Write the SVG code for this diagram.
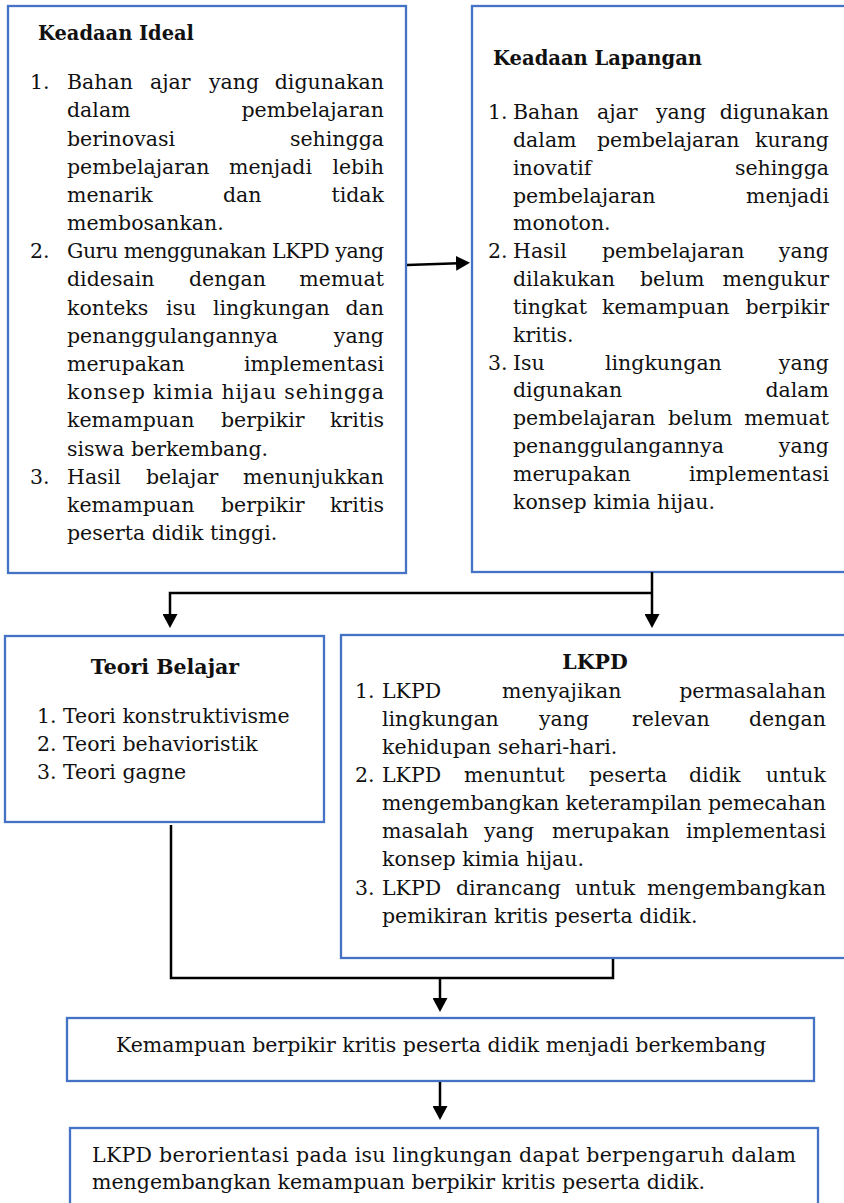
<svg xmlns="http://www.w3.org/2000/svg" width="844" height="1203" viewBox="0 0 844 1203">
<style>
.box{fill:#fff;stroke:#4472C4;stroke-width:2.3}
.t{font-family:"DejaVu Serif","Liberation Serif",serif;font-size:20.5px;fill:#111}
.h{font-family:"DejaVu Serif","Liberation Serif",serif;font-size:20.5px;font-weight:bold;fill:#111}
.c{text-anchor:middle}
.conn{fill:none;stroke:#000;stroke-width:2.5}
</style>
<defs>
<marker id="ah" markerWidth="14" markerHeight="15" refX="10" refY="7.5" orient="auto" markerUnits="userSpaceOnUse">
<path d="M0,0 L14,7.5 L0,15 z" fill="#000"/>
</marker>
</defs>

<g id="ideal">
<rect class="box" x="8" y="6" width="398" height="567"/>
<text class="h" x="38" y="40" textLength="156" lengthAdjust="spacingAndGlyphs">Keadaan Ideal</text>
<g class="t">
<text y="89"><tspan x="30">1.</tspan><tspan x="67">Bahan</tspan><tspan x="150">ajar</tspan><tspan x="209">yang</tspan><tspan x="384" text-anchor="end">digunakan</tspan></text>
<text y="117"><tspan x="67">dalam</tspan><tspan x="384" text-anchor="end">pembelajaran</tspan></text>
<text y="146"><tspan x="67">berinovasi</tspan><tspan x="384" text-anchor="end">sehingga</tspan></text>
<text y="174"><tspan x="67">pembelajaran</tspan><tspan x="229">menjadi</tspan><tspan x="384" text-anchor="end">lebih</tspan></text>
<text y="202"><tspan x="67">menarik</tspan><tspan x="223">dan</tspan><tspan x="384" text-anchor="end">tidak</tspan></text>
<text y="230"><tspan x="67">membosankan.</tspan></text>
<text x="30" y="258">2.</text>
<text x="67" y="258" textLength="317" lengthAdjust="spacing">Guru menggunakan LKPD yang</text>
<text y="286"><tspan x="67">didesain</tspan><tspan x="189">dengan</tspan><tspan x="384" text-anchor="end">memuat</tspan></text>
<text y="315"><tspan x="67">konteks</tspan><tspan x="166">isu</tspan><tspan x="213">lingkungan</tspan><tspan x="384" text-anchor="end">dan</tspan></text>
<text y="343"><tspan x="67">penanggulangannya</tspan><tspan x="384" text-anchor="end">yang</tspan></text>
<text y="371"><tspan x="67">merupakan</tspan><tspan x="384" text-anchor="end">implementasi</tspan></text>
<text x="67" y="399" textLength="317" lengthAdjust="spacing">konsep kimia hijau sehingga</text>
<text y="427"><tspan x="67">kemampuan</tspan><tspan x="221">berpikir</tspan><tspan x="384" text-anchor="end">kritis</tspan></text>
<text y="456"><tspan x="67">siswa berkembang.</tspan></text>
<text y="484"><tspan x="30">3.</tspan><tspan x="67">Hasil</tspan><tspan x="146">belajar</tspan><tspan x="384" text-anchor="end">menunjukkan</tspan></text>
<text y="512"><tspan x="67">kemampuan</tspan><tspan x="221">berpikir</tspan><tspan x="384" text-anchor="end">kritis</tspan></text>
<text y="540"><tspan x="67">peserta didik tinggi.</tspan></text>
</g>
</g>

<g id="lapangan">
<rect class="box" x="472" y="6" width="380" height="566"/>
<text class="h" x="493" y="65" textLength="209" lengthAdjust="spacingAndGlyphs">Keadaan Lapangan</text>
<g class="t">
<text y="119"><tspan x="488">1.</tspan><tspan x="513">Bahan</tspan><tspan x="597">ajar</tspan><tspan x="656">yang</tspan><tspan x="829" text-anchor="end">digunakan</tspan></text>
<text y="147"><tspan x="513">dalam</tspan><tspan x="597">pembelajaran</tspan><tspan x="829" text-anchor="end">kurang</tspan></text>
<text y="175"><tspan x="513">inovatif</tspan><tspan x="829" text-anchor="end">sehingga</tspan></text>
<text y="203"><tspan x="513">pembelajaran</tspan><tspan x="829" text-anchor="end">menjadi</tspan></text>
<text y="230"><tspan x="513">monoton.</tspan></text>
<text y="258"><tspan x="488">2.</tspan><tspan x="513">Hasil</tspan><tspan x="602">pembelajaran</tspan><tspan x="829" text-anchor="end">yang</tspan></text>
<text y="286"><tspan x="513">dilakukan</tspan><tspan x="640">belum</tspan><tspan x="829" text-anchor="end">mengukur</tspan></text>
<text y="314"><tspan x="513">tingkat</tspan><tspan x="602">kemampuan</tspan><tspan x="829" text-anchor="end">berpikir</tspan></text>
<text y="342"><tspan x="513">kritis.</tspan></text>
<text y="370"><tspan x="488">3.</tspan><tspan x="513">Isu</tspan><tspan x="605">lingkungan</tspan><tspan x="829" text-anchor="end">yang</tspan></text>
<text y="397"><tspan x="513">digunakan</tspan><tspan x="829" text-anchor="end">dalam</tspan></text>
<text y="425"><tspan x="513">pembelajaran</tspan><tspan x="668">belum</tspan><tspan x="829" text-anchor="end">memuat</tspan></text>
<text y="453"><tspan x="513">penanggulangannya</tspan><tspan x="829" text-anchor="end">yang</tspan></text>
<text y="481"><tspan x="513">merupakan</tspan><tspan x="829" text-anchor="end">implementasi</tspan></text>
<text y="509"><tspan x="513">konsep kimia hijau.</tspan></text>
</g>
</g>

<g id="teori">
<rect class="box" x="5" y="636" width="319" height="186"/>
<text class="h c" x="165" y="674">Teori Belajar</text>
<g class="t">
<text y="723"><tspan x="37">1.</tspan><tspan x="63">Teori konstruktivisme</tspan></text>
<text y="751"><tspan x="37">2.</tspan><tspan x="63">Teori behavioristik</tspan></text>
<text y="779"><tspan x="37">3.</tspan><tspan x="63">Teori gagne</tspan></text>
</g>
</g>

<g id="lkpd">
<rect class="box" x="341" y="635" width="510" height="323"/>
<text class="h c" x="595" y="669">LKPD</text>
<g class="t">
<text y="698"><tspan x="355">1.</tspan><tspan x="382">LKPD</tspan><tspan x="502">menyajikan</tspan><tspan x="826" text-anchor="end">permasalahan</tspan></text>
<text y="726"><tspan x="382">lingkungan</tspan><tspan x="539">yang</tspan><tspan x="632">relevan</tspan><tspan x="826" text-anchor="end">dengan</tspan></text>
<text y="754"><tspan x="382">kehidupan sehari-hari.</tspan></text>
<text y="782"><tspan x="355">2.</tspan><tspan x="382">LKPD</tspan><tspan x="464">menuntut</tspan><tspan x="589">peserta</tspan><tspan x="689">didik</tspan><tspan x="826" text-anchor="end">untuk</tspan></text>
<text x="382" y="810" textLength="444" lengthAdjust="spacing">mengembangkan keterampilan pemecahan</text>
<text y="838"><tspan x="382">masalah</tspan><tspan x="484">yang</tspan><tspan x="552">merupakan</tspan><tspan x="826" text-anchor="end">implementasi</tspan></text>
<text y="866"><tspan x="382">konsep kimia hijau.</tspan></text>
<text y="895"><tspan x="355">3.</tspan><tspan x="382">LKPD</tspan><tspan x="456">dirancang</tspan><tspan x="575">untuk</tspan><tspan x="826" text-anchor="end">mengembangkan</tspan></text>
<text y="923"><tspan x="382">pemikiran kritis peserta didik.</tspan></text>
</g>
</g>

<g id="kemampuan">
<rect class="box" x="67" y="1018" width="747" height="63"/>
<text class="t c" x="441" y="1052">Kemampuan berpikir kritis peserta didik menjadi berkembang</text>
</g>

<g id="kesimpulan">
<rect class="box" x="70" y="1128" width="748" height="90"/>
<g class="t">
<text x="92" y="1162" textLength="704" lengthAdjust="spacing">LKPD berorientasi pada isu lingkungan dapat berpengaruh dalam</text>
<text x="92" y="1189">mengembangkan kemampuan berpikir kritis peserta didik.</text>
</g>
</g>

<g id="connectors">
<path class="conn" d="M407,265 L466,263" marker-end="url(#ah)"/>
<path class="conn" d="M652,572 L652,624" marker-end="url(#ah)"/>
<path class="conn" d="M652,593 L170,593 L170,624" marker-end="url(#ah)"/>
<path class="conn" d="M171,825 L171,978 L613,978 L613,959"/>
<path class="conn" d="M440,978 L440,1008" marker-end="url(#ah)"/>
<path class="conn" d="M440,1082 L440,1116" marker-end="url(#ah)"/>
</g>
</svg>
